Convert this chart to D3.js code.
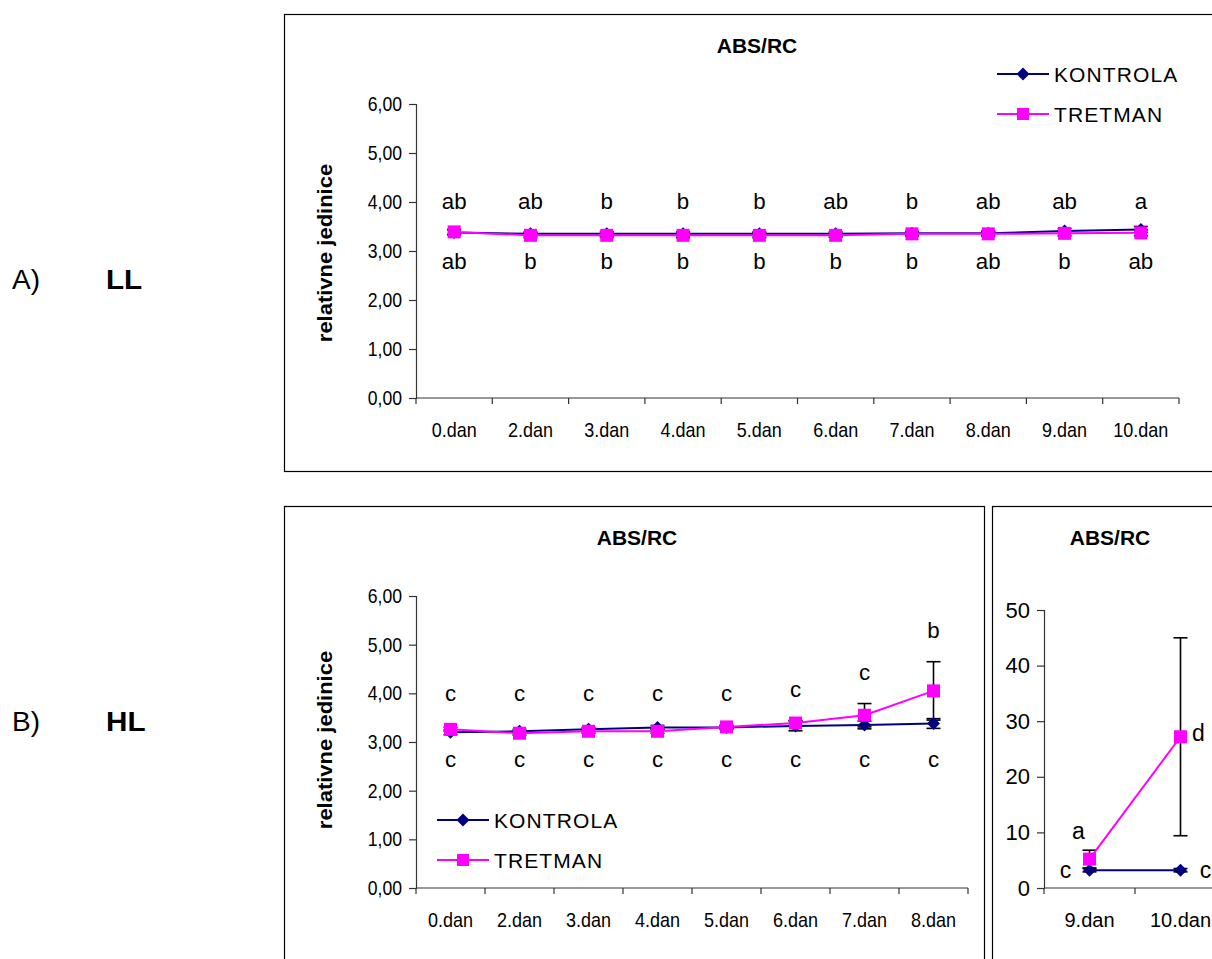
<!DOCTYPE html>
<html>
<head>
<meta charset="utf-8">
<script src="https://cdn.jsdelivr.net/npm/d3@7"></script>
<style>
  html, body { margin: 0; padding: 0; background: #fff; }
  svg { display: block; font-family: "Liberation Sans", Arial, sans-serif; }
</style>
</head>
<body>
<svg id="chart" width="1212" height="959"></svg>
<script>
// ---- LL: ABS/RC over days 0–10 ----
const llDays = ["0.dan", "2.dan", "3.dan", "4.dan", "5.dan", "6.dan", "7.dan", "8.dan", "9.dan", "10.dan"];
const llKontrola = [3.38, 3.35, 3.35, 3.35, 3.35, 3.35, 3.36, 3.36, 3.41, 3.44];
const llKontrolaErr = [0.05, 0.04, 0.04, 0.04, 0.04, 0.04, 0.04, 0.04, 0.05, 0.06];
const llTretman = [3.39, 3.32, 3.32, 3.32, 3.32, 3.32, 3.35, 3.35, 3.36, 3.37];
const llTretmanErr = [0.05, 0.05, 0.04, 0.05, 0.05, 0.04, 0.04, 0.05, 0.05, 0.06];
const llUpperLetters = ["ab", "ab", "b", "b", "b", "ab", "b", "ab", "ab", "a"];
const llLowerLetters = ["ab", "b", "b", "b", "b", "b", "b", "ab", "b", "ab"];

// ---- HL: ABS/RC over days 0–8 ----
const hlDays = ["0.dan", "2.dan", "3.dan", "4.dan", "5.dan", "6.dan", "7.dan", "8.dan"];
const hlKontrola = [3.20, 3.22, 3.26, 3.30, 3.30, 3.33, 3.35, 3.38];
const hlKontrolaErr = [0.05, 0.04, 0.04, 0.04, 0.04, 0.1, 0.08, 0.1];
const hlTretman = [3.26, 3.18, 3.22, 3.22, 3.31, 3.39, 3.55, 4.05];
const hlTretmanErr = [0.04, 0.04, 0.04, 0.04, 0.03, 0.05, 0.24, 0.6];
const hlUpperLetters = ["c", "c", "c", "c", "c", "c", "c", "b"];
const hlLowerLetters = ["c", "c", "c", "c", "c", "c", "c", "c"];

// ---- HL: ABS/RC over days 9–10 ----
const hlLateDays = ["9.dan", "10.dan"];
const hlLateKontrola = [3.2, 3.2];
const hlLateKontrolaErr = [0.3, 0.3];
const hlLateTretman = [5.2, 27.2];
const hlLateTretmanErr = [1.6, 17.8];
const hlLateKontrolaLetters = ["c", "c"];
const hlLateTretmanLetters = ["a", "d"];

const seriesNames = ["KONTROLA", "TRETMAN"];
const ticks6 = [0, 1, 2, 3, 4, 5, 6];
const ticks50 = [0, 10, 20, 30, 40, 50];

const NAVY = "#000080", MAGENTA = "#ff00ff";
const commaFmt = v => d3.format(".2f")(v).replace(".", ",");

const svg = d3.select("#chart");

// text helper: glyphs slightly squeezed horizontally
function label(g, x, y, s, o = {}) {
  const t = g.append("text")
    .attr("transform", `translate(${x},${y}) rotate(${o.rotate || 0}) scale(${o.sx || 1},${o.sy || 1})`)
    .attr("text-anchor", o.anchor || "middle")
    .attr("dominant-baseline", "central")
    .attr("font-size", o.size || 20)
    .attr("font-weight", o.weight || "normal")
    .attr("fill", "#000")
    .text(s);
  if (o.spacing) t.attr("letter-spacing", o.spacing);
  return t;
}

function diamond(g, x, y, r) {
  g.append("path")
    .attr("d", `M${x},${y - r}L${x + r},${y}L${x},${y + r}L${x - r},${y}Z`)
    .attr("fill", NAVY);
}
function square(g, x, y, r) {
  g.append("rect").attr("x", x - r).attr("y", y - r)
    .attr("width", 2 * r).attr("height", 2 * r).attr("fill", MAGENTA);
}

// one line panel with two series, error bars and axes
function panel(cfg) {
  const g = svg.append("g");
  // frame
  g.append("rect").attr("x", cfg.frame[0] + 0.5).attr("y", cfg.frame[1] + 0.5)
    .attr("width", cfg.frame[2]).attr("height", cfg.frame[3])
    .attr("fill", "none").attr("stroke", "#000").attr("stroke-width", 1.2);

  const x = d3.scaleBand().domain(cfg.cats).range(cfg.xr);
  const y = d3.scaleLinear().domain(cfg.ydom).range(cfg.yr);
  const cx = c => x(c) + x.bandwidth() / 2;

  // y axis
  const ya = g.append("g").attr("transform", `translate(${cfg.xr[0]},0)`)
    .call(d3.axisLeft(y).tickValues(cfg.yticks).tickSize(7).tickPadding(9).tickFormat(cfg.yfmt));
  ya.select(".domain").attr("stroke", "#333").attr("stroke-width", 1.2);
  ya.selectAll(".tick line").attr("stroke", "#333").attr("stroke-width", 1.2);
  ya.selectAll(".tick text").remove();
  cfg.yticks.forEach(v => label(g, cfg.xr[0] - 14, y(v), cfg.yfmt(v),
    { size: cfg.ytickSize || 20, anchor: "end", sx: cfg.ytickSx || 0.88 }));

  // x axis with ticks on category boundaries
  const xa = g.append("g").attr("transform", `translate(0,${cfg.yr[0]})`);
  xa.append("line").attr("x1", cfg.xr[0]).attr("x2", cfg.xr[1])
    .attr("stroke", "#333").attr("stroke-width", 1.2);
  const bounds = cfg.cats.map(c => x(c)).concat([x(cfg.cats[cfg.cats.length - 1]) + x.bandwidth()]);
  bounds.forEach(b => xa.append("line").attr("x1", b).attr("x2", b).attr("y1", 0).attr("y2", 6)
    .attr("stroke", "#333").attr("stroke-width", 1.2));
  cfg.cats.forEach(c => label(g, cx(c), cfg.yr[0] + 32, c,
    { size: cfg.xtickSize || 20, sx: cfg.xtickSx || 0.9 }));

  // titles
  label(g, cfg.title[0], cfg.title[1], "ABS/RC", { size: 21, weight: "bold", sx: cfg.titleSx || 1.0 });
  if (cfg.ytitle) {
    label(g, cfg.ytitle[0], cfg.ytitle[1], "relativne jedinice",
      { size: 22, weight: "bold", rotate: -90, sy: 0.9 });
  }

  // error bars
  const eb = g.append("g").attr("stroke", "#000").attr("stroke-width", 1.6);
  [[cfg.k, cfg.kErr], [cfg.t, cfg.tErr]].forEach(([vals, errs]) => {
    cfg.cats.forEach((c, i) => {
      const X = cx(c), lo = y(vals[i] - errs[i]), hi = y(vals[i] + errs[i]);
      eb.append("line").attr("x1", X).attr("x2", X).attr("y1", lo).attr("y2", hi);
      eb.append("line").attr("x1", X - 7).attr("x2", X + 7).attr("y1", lo).attr("y2", lo);
      eb.append("line").attr("x1", X - 7).attr("x2", X + 7).attr("y1", hi).attr("y2", hi);
    });
  });

  // lines
  const line = vals => d3.line().x((d, i) => cx(cfg.cats[i])).y(d => y(d))(vals);
  g.append("path").attr("d", line(cfg.k)).attr("fill", "none").attr("stroke", NAVY).attr("stroke-width", 2);
  g.append("path").attr("d", line(cfg.t)).attr("fill", "none").attr("stroke", MAGENTA).attr("stroke-width", 2);

  // markers
  cfg.k.forEach((v, i) => diamond(g, cx(cfg.cats[i]), y(v), 6.5));
  cfg.t.forEach((v, i) => square(g, cx(cfg.cats[i]), y(v), 6.5));

  return { g, x, y, cx };
}

function legend(g, x0, y0, gap) {
  seriesNames.forEach((name, i) => {
    const yy = y0 + i * gap;
    g.append("line").attr("x1", x0).attr("x2", x0 + 52).attr("y1", yy).attr("y2", yy)
      .attr("stroke", i === 0 ? NAVY : MAGENTA).attr("stroke-width", 2);
    if (i === 0) diamond(g, x0 + 26, yy, 6.5); else square(g, x0 + 26, yy, 6);
    label(g, x0 + 57, yy, name, { size: 21, anchor: "start", spacing: 1.1 });
  });
}

// ---- panel A (LL) ----
const A = panel({
  frame: [284, 14, 940, 457],
  cats: llDays, xr: [416, 1179], ydom: [0, 6], yr: [398, 104],
  yticks: ticks6, yfmt: commaFmt,
  title: [757, 45], ytitle: [325, 253],
  k: llKontrola, kErr: llKontrolaErr, t: llTretman, tErr: llTretmanErr
});
legend(A.g, 997, 74, 40);
llDays.forEach((c, i) => {
  label(A.g, A.cx(c), A.y(4.03), llUpperLetters[i], { size: 23, sx: 0.97 });
  label(A.g, A.cx(c), A.y(2.8), llLowerLetters[i], { size: 23, sx: 0.97 });
});

// ---- panel B (HL, days 0–8) ----
const B = panel({
  frame: [284, 506, 700, 470],
  cats: hlDays, xr: [416, 968], ydom: [0, 6], yr: [888, 596],
  yticks: ticks6, yfmt: commaFmt,
  title: [637, 537], ytitle: [325, 740],
  k: hlKontrola, kErr: hlKontrolaErr, t: hlTretman, tErr: hlTretmanErr
});
legend(B.g, 437, 820, 40);
hlDays.forEach((c, i) => {
  const up = Math.max(4.0, hlTretman[i] + hlTretmanErr[i] + 0.65);
  label(B.g, B.cx(c), B.y(up), hlUpperLetters[i], { size: 23, sx: 0.97 });
  label(B.g, B.cx(c), B.y(2.65), hlLowerLetters[i], { size: 23, sx: 0.97 });
});

// ---- panel B (HL, days 9–10) ----
const C = panel({
  frame: [992, 506, 240, 470],
  cats: hlLateDays, xr: [1044, 1226], ydom: [0, 50], yr: [888, 610],
  yticks: ticks50, yfmt: d3.format("d"), ytickSize: 22, ytickSx: 1.0,
  xtickSize: 20, xtickSx: 1.0,
  title: [1110, 537],
  k: hlLateKontrola, kErr: hlLateKontrolaErr, t: hlLateTretman, tErr: hlLateTretmanErr
});
hlLateDays.forEach((c, i) => {
  const X = C.cx(c);
  // kontrola letters sit beside the markers, tretman letters beside / above
  label(C.g, i === 0 ? X - 24 : X + 25, C.y(hlLateKontrola[i]), hlLateKontrolaLetters[i], { size: 23 });
  if (i === 0) label(C.g, X - 11, C.y(hlLateTretman[i]) - 28, hlLateTretmanLetters[i], { size: 23 });
  else label(C.g, X + 18, C.y(hlLateTretman[i]) - 4, hlLateTretmanLetters[i], { size: 23 });
});

// ---- row labels ----
label(svg, 12, 279, "A)", { size: 28, anchor: "start" });
label(svg, 106, 279, "LL", { size: 28, weight: "bold", anchor: "start", sx: 1.06 });
label(svg, 12, 721, "B)", { size: 28, anchor: "start" });
label(svg, 106, 721, "HL", { size: 28, weight: "bold", anchor: "start", sx: 1.06 });
</script>
</body>
</html>
